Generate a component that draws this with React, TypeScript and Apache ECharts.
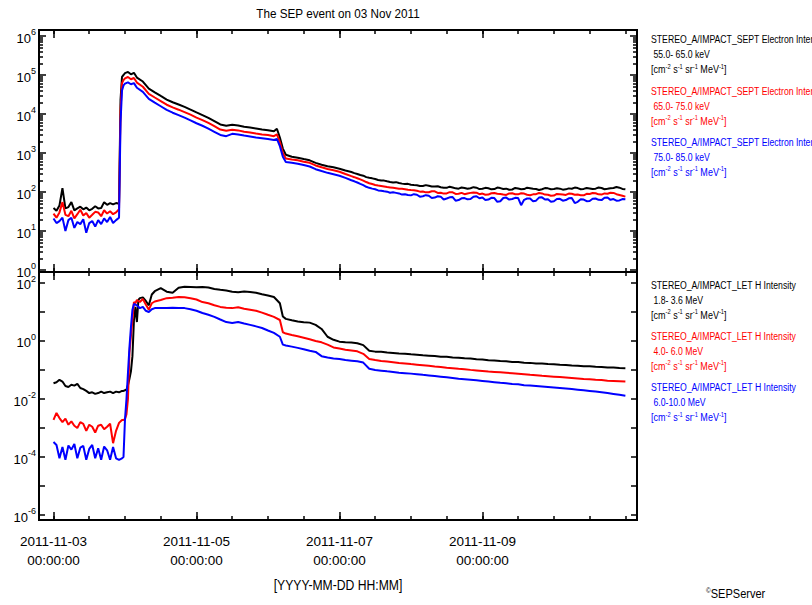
import React, { useEffect, useRef } from 'react';
import * as echarts from 'echarts';

// ---------- data: top panel (SEPT electrons), hours since 2011-11-03 00:00 ----------
const hoursTop = [
  0, 1, 2, 3, 4, 5, 6, 7, 8, 9, 10, 11, 12, 13, 14, 15, 16, 17, 18, 19, 20, 21, 22,
  22.5, 23, 23.5, 24, 25, 26, 27, 28,
  30, 32, 34, 36, 38, 40, 42, 44, 46, 48, 50, 52, 54, 56, 58, 60, 62, 64, 66, 68, 70, 72, 74,
  75, 76, 77, 78,
  80, 82, 84, 86, 88, 90, 92, 94, 96, 98, 100,
  101, 102, 103, 104, 105, 106, 107, 108, 109, 110, 111, 112, 113, 114, 115, 116, 117, 118, 119, 120,
  121, 122, 123, 124, 125, 126, 127, 128, 129, 130, 131, 132, 133, 134, 135, 136, 137, 138, 139, 140,
  141, 142, 143, 144, 145, 146, 147, 148, 149, 150, 151, 152, 153, 154, 155, 156, 157, 158, 159, 160,
  161, 162, 163, 164, 165, 166, 167, 168, 169, 170, 171, 172, 173, 174, 175, 176, 177, 178, 179, 180,
  181, 182, 183, 184, 185, 186, 187, 188, 189, 190, 191, 192,
];
const sept55 = [
  39, 33, 45, 126, 38, 41, 55, 34, 38, 42, 36, 40, 34, 37, 43, 38, 39, 55, 47, 52, 48, 52, 50,
  23000, 90000, 100000, 112000, 120000, 104000, 114000, 86000,
  68000, 45000, 36000, 29000, 23500, 20000, 17500, 15200, 13000, 11000, 9400, 8000, 6600, 5400, 5000,
  5300, 5100, 4700, 4500, 4250, 4000, 3850, 3600,
  4200, 2500, 1300, 900,
  800, 760, 700, 650, 560, 500, 460, 430, 395, 355, 325,
  305, 290, 272, 262, 241, 232, 224, 215, 204, 198, 196, 188, 181, 176, 179, 170, 164, 160, 162, 154,
  151, 149, 143, 142, 150, 145, 139, 138, 141, 133, 129, 128, 137, 131, 124, 122, 130, 127, 121, 125,
  133, 129, 119, 121, 128, 125, 117, 119, 130, 126, 120, 122, 114, 116, 127, 123, 118, 119, 129, 125,
  121, 119, 113, 118, 126, 124, 118, 120, 125, 122, 115, 117, 124, 121, 130, 126, 118, 120, 127, 123,
  119, 122, 130, 127, 118, 121, 125, 127, 134, 129, 120, 117,
];
const sept65 = [
  28, 22, 30, 55, 26, 24, 33, 21, 27, 35, 25, 29, 22, 26, 31, 30, 24, 34, 28, 32, 27, 30, 36,
  12000, 62000, 74000, 82000, 89000, 78000, 84000, 64000,
  50000, 33000, 26500, 21500, 17300, 14800, 12900, 11200, 9600, 8100, 7000, 5900, 4900, 4000, 3700,
  3950, 3800, 3500, 3350, 3150, 3000, 2900, 2700,
  3000, 1900, 1000, 720,
  680, 650, 600, 560, 480, 430, 390, 360, 330, 290, 255,
  240, 225, 210, 195, 180, 168, 160, 152, 146, 142, 138, 134, 131, 128, 125, 122, 121, 118, 114, 112,
  111, 108, 102, 103, 98, 99, 105, 104, 95, 96, 91, 92, 99, 98, 89, 90, 95, 88, 92, 95,
  97, 96, 88, 91, 85, 86, 93, 94, 90, 89, 86, 84, 92, 93, 88, 87, 93, 91, 85, 83,
  87, 88, 94, 92, 86, 85, 80, 81, 89, 88, 86, 84, 91, 90, 85, 86, 83, 82, 90, 89,
  94, 93, 87, 86, 92, 90, 96, 95, 88, 84, 80, 76,
];
const sept75 = [
  21, 16, 18, 22, 10, 19, 22, 12, 17, 15, 20, 9, 16, 18, 13, 19, 15, 21, 17, 23, 16, 19, 22,
  6000, 40000, 54000, 60000, 65000, 58000, 62000, 47000,
  37000, 24500, 19500, 15800, 12700, 10800, 9400, 8100, 6900, 5800, 5000, 4200, 3500, 2900, 2700,
  3100, 3000, 2800, 2650, 2500, 2400, 2300, 2150,
  2300, 1500, 800, 590,
  560, 530, 490, 450, 385, 345, 310, 285, 262, 230, 200,
  188, 175, 162, 150, 136, 128, 122, 118, 110, 108, 104, 102, 96, 98, 95, 92, 86, 88, 84, 82,
  88, 85, 76, 78, 83, 80, 70, 72, 78, 76, 64, 68, 73, 74, 60, 62, 69, 70, 65, 66,
  76, 78, 69, 72, 62, 64, 71, 70, 56, 58, 70, 72, 64, 66, 71, 70, 46, 63, 68, 68,
  58, 60, 72, 73, 64, 65, 56, 58, 66, 67, 60, 62, 69, 70, 52, 56, 65, 64, 58, 59,
  67, 68, 63, 62, 71, 72, 63, 66, 60, 61, 66, 65,
];

// ---------- data: bottom panel (LET protons) ----------
const hoursBottom = [
  0, 1, 2, 3, 4, 5, 6, 7, 8, 9, 10, 11, 12, 13, 14, 15, 16, 17, 18, 19, 20, 21, 22, 23,
  23.5, 24, 24.5, 25, 25.5, 26, 26.5, 27, 27.5, 28, 28.5, 29, 30, 31, 32, 33, 34, 36,
  38, 40, 42, 44, 46, 48, 50, 52, 54, 56, 58, 60, 62, 64, 66, 68, 70, 72, 74, 76,
  77, 78, 80, 82, 84, 86, 88, 90, 92, 94, 96, 98, 100,
  102, 104, 106, 108, 110, 112, 114, 116, 118, 120, 122, 124, 126, 128, 130, 132, 134, 136, 138, 140,
  142, 144, 146, 148, 150, 152, 154, 156, 158, 160, 162, 164, 166, 168, 170, 172, 174, 176, 178, 180,
  182, 184, 186, 188, 190, 192,
];
const let18 = [
  0.035, 0.038, 0.046, 0.04, 0.028, 0.026, 0.031, 0.029, 0.033, 0.024, 0.022, 0.019, 0.016, 0.017, 0.015,
  0.016, 0.018, 0.016, 0.017, 0.018, 0.016, 0.018, 0.017, 0.019,
  0.019, 0.02, 0.021, 0.03, 0.05, 0.09, 0.3, 5, 15, 4.5, 26, 30, 32, 24, 17, 40, 52, 66,
  50, 46, 68, 74, 73, 72, 73, 70, 62, 58, 55, 50, 48, 51, 49, 46, 41, 37, 33, 20,
  7, 5.8, 5.2, 4.7, 4.4, 4.3, 3.6, 2.6, 1.4, 1.1, 0.95, 0.9, 0.88,
  0.84, 0.72, 0.46, 0.43, 0.425, 0.4, 0.385, 0.37, 0.362, 0.348, 0.338, 0.322, 0.312, 0.302, 0.288, 0.285,
  0.272, 0.266, 0.252, 0.247, 0.233, 0.229, 0.218, 0.213, 0.204, 0.2, 0.19, 0.187, 0.178, 0.176, 0.168,
  0.166, 0.16, 0.158, 0.151, 0.149, 0.143, 0.141, 0.135, 0.134, 0.129, 0.128, 0.123, 0.122, 0.117, 0.116,
];
const let40 = [
  0.0019, 0.0033, 0.0022, 0.0016, 0.0021, 0.0013, 0.0017, 0.0012, 0.001, 0.0016, 0.0014, 0.0008, 0.0013,
  0.0011, 0.0007, 0.0012, 0.0013, 0.0009, 0.0011, 0.0014, 0.0003, 0.0008, 0.0015, 0.0019,
  0.0019, 0.002, 0.003, 0.01, 0.4, 1.5, 5.3, 22, 20, 26, 24, 22, 28, 18, 12, 20, 23, 26,
  30, 31, 33, 32, 30, 27, 22, 20, 17, 15, 14, 13.6, 14.5, 13, 12, 11, 9.5, 8, 6.8, 5.3,
  2.0, 1.8, 1.6, 1.45, 1.3, 1.15, 1.0, 0.9, 0.75, 0.6, 0.55, 0.5, 0.47,
  0.44, 0.36, 0.24, 0.22, 0.205, 0.195, 0.185, 0.175, 0.168, 0.16, 0.153, 0.146, 0.139, 0.132, 0.126, 0.12,
  0.115, 0.11, 0.106, 0.101, 0.097, 0.093, 0.089, 0.086, 0.083, 0.08, 0.077, 0.074, 0.071, 0.068, 0.066,
  0.063, 0.061, 0.059, 0.057, 0.055, 0.053, 0.051, 0.049, 0.048, 0.046, 0.045, 0.043, 0.042, 0.041, 0.04,
];
const let60 = [
  0.00033, 0.00026, 0.00009, 0.00022, 0.00008, 0.00025, 0.00018, 0.00028, 0.00009, 0.00021, 0.00024,
  0.00008, 0.00019, 0.00026, 0.00009, 0.0002, 0.00008, 0.00023, 0.00017, 0.00008, 0.00022, 0.00009,
  0.00008, 0.00009,
  0.0001, 0.002, 0.01, 0.08, 0.6, 3, 12, 19, 18, 17, 15, 13.6, 15, 11, 10, 12.5, 13.6, 13.8,
  13.8, 14, 13.8, 13.6, 12.5, 11, 9.2, 8, 6.8, 5.5, 4.5, 4.2, 4.5, 4.0, 3.6, 3.2, 2.8, 2.3, 1.9, 1.4,
  0.75, 0.7, 0.64, 0.58, 0.52, 0.46, 0.42, 0.3, 0.27, 0.25, 0.24, 0.22, 0.21,
  0.2, 0.18, 0.11, 0.1, 0.095, 0.09, 0.086, 0.081, 0.078, 0.075, 0.072, 0.068, 0.065, 0.062, 0.059, 0.056,
  0.053, 0.05, 0.048, 0.046, 0.044, 0.042, 0.04, 0.038, 0.036, 0.035, 0.033, 0.032, 0.03, 0.029, 0.028,
  0.027, 0.026, 0.025, 0.024, 0.023, 0.022, 0.021, 0.02, 0.019, 0.018, 0.017, 0.016, 0.015, 0.014, 0.013,
];

// ---------- ticks & labels ----------
const xTickHours = [0, 12, 24, 36, 48, 60, 72, 84, 96, 108, 120, 132, 144, 156, 168, 180, 192];
const xMajorHours = [0, 48, 96, 144];
const xDateLabels = ['2011-11-03', '2011-11-05', '2011-11-07', '2011-11-09'];
const xTimeLabel = '00:00:00';
const logMantissas = [2, 3, 4, 5, 6, 7, 8, 9];
const topDecades = [0, 1, 2, 3, 4, 5];

const topLegend = [
  { name: 'STEREO_A/IMPACT_SEPT Electron Intensity', range: ' 55.0- 65.0 keV', color: '#000000' },
  { name: 'STEREO_A/IMPACT_SEPT Electron Intensity', range: ' 65.0- 75.0 keV', color: '#ff0000' },
  { name: 'STEREO_A/IMPACT_SEPT Electron Intensity', range: ' 75.0- 85.0 keV', color: '#0000ff' },
];
const bottomLegend = [
  { name: 'STEREO_A/IMPACT_LET H Intensity', range: ' 1.8- 3.6 MeV', color: '#000000' },
  { name: 'STEREO_A/IMPACT_LET H Intensity', range: ' 4.0- 6.0 MeV', color: '#ff0000' },
  { name: 'STEREO_A/IMPACT_LET H Intensity', range: ' 6.0-10.0 MeV', color: '#0000ff' },
];
const unitText = '[cm{s|-2} s{s|-1} sr{s|-1} MeV{s|-1}]';

const FONT = "'Liberation Sans', Arial, sans-serif";

export default function App() {
  const ref = useRef<HTMLDivElement>(null);

  useEffect(() => {
    if (!ref.current) return;
    const chart = echarts.init(ref.current, null, { renderer: 'svg' });

    const X_MIN = -4.87;
    const X_MAX = 195.9;
    const TOP_MIN = Math.pow(10, -0.051);
    const TOP_MAX = Math.pow(10, 6.154);
    const BOT_MIN = Math.pow(10, -6.172);
    const BOT_MAX = Math.pow(10, 2.379);

    const topMinor: number[] = [];
    topDecades.forEach((d) => logMantissas.forEach((m) => topMinor.push(m * Math.pow(10, d))));

    const zip = (h: number[], v: number[]) => h.map((x, i) => [x, v[i]]);

    const logLabel = (step: number) => (v: number) => {
      const e = Math.log10(v);
      const r = Math.round(e);
      if (Math.abs(e - r) > 1e-6) return '';
      if (r % step !== 0) return '';
      return `{b|10}{s|${r}}`;
    };
    const yRich = {
      b: { fontSize: 13, fontFamily: FONT, color: '#000', verticalAlign: 'bottom' },
      s: { fontSize: 9, fontFamily: FONT, color: '#000', verticalAlign: 'bottom', padding: [0, 0, 8, 0] },
    };
    const tickStyle = { color: '#000', width: 1.5 };

    const xAx = (grid: number, pos: string, values: number[], len: number, labels = false) => ({
      type: 'value',
      gridIndex: grid,
      position: pos,
      min: X_MIN,
      max: X_MAX,
      axisLine: { show: false, onZero: false },
      splitLine: { show: false },
      axisTick: { show: true, inside: true, length: len, customValues: values, lineStyle: tickStyle },
      axisLabel: labels
        ? {
            show: true,
            customValues: xMajorHours,
            margin: 12,
            fontSize: 13.5,
            lineHeight: 19,
            fontFamily: FONT,
            color: '#000',
            formatter: (v: number) => {
              const i = xMajorHours.indexOf(Math.round(v));
              return i >= 0 ? `${xDateLabels[i]}\n${xTimeLabel}` : '';
            },
          }
        : { show: false },
    });
    const yAx = (grid: number, pos: string, min: number, max: number, len: number, extra: any = {}) => ({
      type: 'log',
      logBase: 10,
      gridIndex: grid,
      position: pos,
      min,
      max,
      axisLine: { show: false, onZero: false },
      splitLine: { show: false },
      axisTick: { show: true, inside: true, length: len, lineStyle: tickStyle, ...(extra.tick || {}) },
      axisLabel: extra.label || { show: false },
    });

    const lineSeries = (name: string, xi: number, yi: number, data: number[][], color: string) => ({
      type: 'line',
      name,
      xAxisIndex: xi,
      yAxisIndex: yi,
      data,
      showSymbol: false,
      symbol: 'none',
      lineStyle: { color, width: 2 },
      itemStyle: { color },
    });

    const graphics: any[] = [
      {
        type: 'text',
        x: 338,
        y: 14,
        scaleX: 0.9,
        style: { text: 'The SEP event on 03 Nov 2011', align: 'center', verticalAlign: 'middle', fontSize: 13, fontFamily: FONT, fill: '#000' },
      },
      {
        type: 'text',
        x: 338,
        y: 585,
        scaleX: 0.87,
        style: { text: '[YYYY-MM-DD HH:MM]', align: 'center', verticalAlign: 'middle', fontSize: 14, fontFamily: FONT, fill: '#000' },
      },
      {
        type: 'text',
        x: 706,
        y: 594,
        scaleX: 0.92,
        style: {
          text: '{s|©}SEPServer',
          align: 'left',
          verticalAlign: 'middle',
          fontSize: 12,
          fontFamily: FONT,
          fill: '#000',
          rich: {
            s: { fontSize: 7, fontFamily: FONT, fill: '#000', padding: [0, 0, 7, 0] },
          },
        },
      },
    ];
    const addLegend = (items: typeof topLegend, starts: number[]) => {
      items.forEach((it, k) => {
        const y0 = starts[k];
        const base = { align: 'left', verticalAlign: 'middle', fontSize: 11, fontFamily: FONT, fill: it.color };
        graphics.push({ type: 'text', x: 651, y: y0, scaleX: 0.79, style: { ...base, text: it.name } });
        graphics.push({ type: 'text', x: 651, y: y0 + 15, scaleX: 0.79, style: { ...base, text: it.range } });
        graphics.push({
          type: 'text',
          x: 651,
          y: y0 + 30,
          scaleX: 0.82,
          style: {
            ...base,
            text: unitText,
            rich: {
              s: { fontSize: 7, fontFamily: FONT, fill: it.color, padding: [0, 0, 7, 0] },
            },
          },
        });
      });
    };
    addLegend(topLegend, [39.5, 90.7, 141.7]);
    addLegend(bottomLegend, [285, 336, 387.3]);

    chart.setOption({
      animation: false,
      backgroundColor: '#ffffff',
      grid: [
        { left: 39, right: 175, top: 30, height: 242, show: true, borderColor: '#000', borderWidth: 2, backgroundColor: 'transparent' },
        { left: 39, right: 175, top: 272, height: 248, show: true, borderColor: '#000', borderWidth: 2, backgroundColor: 'transparent' },
      ],
      xAxis: [
        xAx(0, 'bottom', xTickHours, 4),
        xAx(0, 'bottom', xMajorHours, 8),
        xAx(0, 'top', xTickHours, 4),
        xAx(0, 'top', xMajorHours, 8),
        xAx(1, 'bottom', xTickHours, 4, true),
        xAx(1, 'bottom', xMajorHours, 8),
        xAx(1, 'top', xTickHours, 4),
        xAx(1, 'top', xMajorHours, 8),
      ],
      yAxis: [
        yAx(0, 'left', TOP_MIN, TOP_MAX, 7, {
          label: { show: true, margin: 3, formatter: logLabel(1), rich: yRich },
        }),
        yAx(0, 'left', TOP_MIN, TOP_MAX, 4, { tick: { customValues: topMinor } }),
        yAx(0, 'right', TOP_MIN, TOP_MAX, 7),
        yAx(0, 'right', TOP_MIN, TOP_MAX, 4, { tick: { customValues: topMinor } }),
        yAx(1, 'left', BOT_MIN, BOT_MAX, 6, {
          label: { show: true, margin: 3, formatter: logLabel(2), rich: yRich },
        }),
        yAx(1, 'right', BOT_MIN, BOT_MAX, 6),
      ],
      series: [
        lineSeries('SEPT 55-65 keV', 0, 0, zip(hoursTop, sept55), '#000000'),
        lineSeries('SEPT 65-75 keV', 0, 0, zip(hoursTop, sept65), '#ff0000'),
        lineSeries('SEPT 75-85 keV', 0, 0, zip(hoursTop, sept75), '#0000ff'),
        lineSeries('LET 1.8-3.6 MeV', 4, 4, zip(hoursBottom, let18), '#000000'),
        lineSeries('LET 4.0-6.0 MeV', 4, 4, zip(hoursBottom, let40), '#ff0000'),
        lineSeries('LET 6.0-10.0 MeV', 4, 4, zip(hoursBottom, let60), '#0000ff'),
      ],
      graphic: graphics,
    });

    return () => chart.dispose();
  }, []);

  return (
    <div
      ref={ref}
      style={{ position: 'fixed', left: 0, top: 0, width: 812, height: 605, background: '#fff' }}
    />
  );
}
